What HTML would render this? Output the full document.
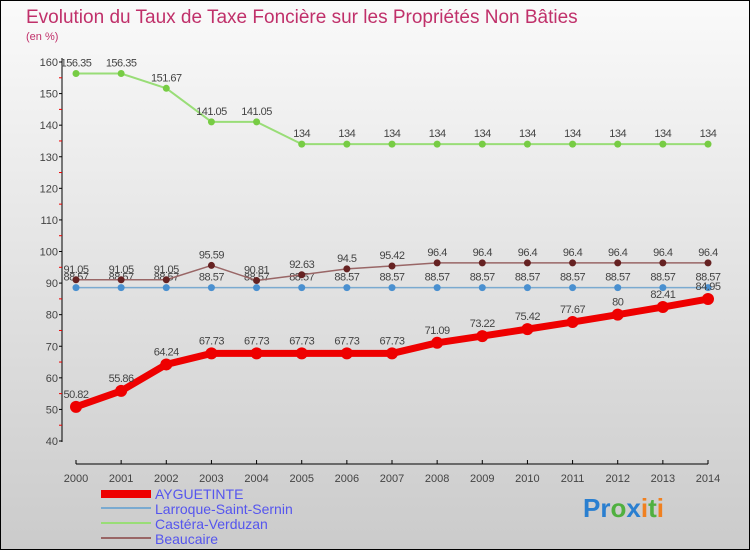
<!DOCTYPE html>
<html><head><meta charset="utf-8"><style>
body{margin:0}
#c{width:748px;height:548px;border:1px solid #000;background:linear-gradient(#fafafa,#cbcbcb);position:relative;font-family:"Liberation Sans",sans-serif;overflow:hidden}
</style></head><body>
<div id="c">
<svg id="s" width="748" height="548" xmlns="http://www.w3.org/2000/svg" font-family="Liberation Sans, sans-serif">
<text x="25" y="22" font-size="19" fill="#c0306a">Evolution du Taux de Taxe Foncière sur les Propriétés Non Bâties</text>
<text x="25" y="39" font-size="11" fill="#c0306a">(en %)</text>
<g id="axes"></g><g id="series"></g>
<g font-size="14" fill="#5555ee">
<rect x="100" y="489" width="50" height="8" fill="#e00"/>
<text x="154" y="498">AYGUETINTE</text>
<rect x="100" y="506" width="50" height="2" fill="#7aaad0"/>
<text x="154" y="513">Larroque-Saint-Sernin</text>
<rect x="100" y="521" width="50" height="2" fill="#99dd77"/>
<text x="154" y="528">Castéra-Verduzan</text>
<rect x="100" y="536" width="50" height="2" fill="#996666"/>
<text x="154" y="543">Beaucaire</text>
</g>
<text x="582" y="516" font-size="26" font-weight="bold"><tspan fill="#2a7fd0">Pr</tspan><tspan fill="#50b040">o</tspan><tspan fill="#2a7fd0">x</tspan><tspan fill="#f08020">i</tspan><tspan fill="#50b040">t</tspan><tspan fill="#f08020">i</tspan></text>
</svg></div>
<script>
const years=[2000,2001,2002,2003,2004,2005,2006,2007,2008,2009,2010,2011,2012,2013,2014];
const ayguetinte=[50.82,55.86,64.24,67.73,67.73,67.73,67.73,67.73,71.09,73.22,75.42,77.67,80,82.41,84.95];
const larroque=[88.57,88.57,88.57,88.57,88.57,88.57,88.57,88.57,88.57,88.57,88.57,88.57,88.57,88.57,88.57];
const castera=[156.35,156.35,151.67,141.05,141.05,134,134,134,134,134,134,134,134,134,134];
const beaucaire=[91.05,91.05,91.05,95.59,90.81,92.63,94.5,95.42,96.4,96.4,96.4,96.4,96.4,96.4,96.4];
const yTicks=[40,50,60,70,80,90,100,110,120,130,140,150,160];
const NS="http://www.w3.org/2000/svg";
const X=i=>75+i*(707-75)/14;
const Y=v=>440-(v-40)*(440-61)/120;
function mk(t,a,p){const e=document.createElementNS(NS,t);for(const k in a)e.setAttribute(k,a[k]);p.appendChild(e);return e;}
const ax=document.getElementById('axes');
let l=mk('line',{x1:61,y1:57,x2:61,y2:441,stroke:'#000'},ax);


yTicks.forEach(v=>{mk('line',{x1:58,y1:Y(v),x2:61,y2:Y(v),stroke:'#000'},ax);
 const t=mk('text',{x:57,y:Y(v)+4,'font-size':11,fill:'#444','text-anchor':'end'},ax);t.textContent=v;
 
 
 if(v<160)mk('line',{x1:58,y1:Y(v+5),x2:61,y2:Y(v+5),stroke:'#e00'},ax);});
l=mk('line',{x1:75,y1:463,x2:707,y2:463,stroke:'#000'},ax);


years.forEach((y,i)=>{mk('line',{x1:X(i),y1:459,x2:X(i),y2:463,stroke:'#000'},ax);
 const t=mk('text',{x:X(i),y:481,'font-size':11,fill:'#444','text-anchor':'middle'},ax);t.textContent=y;
 
 });
const sg=document.getElementById('series');
function series(d,name,col,dot,w,r,off){
 const g=mk('g',{},sg);
 
 
 mk('polyline',{points:d.map((v,i)=>X(i)+','+Y(v)).join(' '),fill:'none',stroke:col,'stroke-width':w,'stroke-linejoin':'round'},g);
 d.forEach((v,i)=>{const c=mk('circle',{cx:X(i),cy:Y(v),r:r,fill:dot},g);
  
  
  const t=mk('text',{x:X(i),y:Y(v)+off,'font-size':11,fill:'#444','text-anchor':'middle','letter-spacing':'-0.5'},g);t.textContent=v;
  
  });
}
series(castera,'castera','#99dd77','#77cc44',2,3.5,-7);
series(larroque,'larroque','#7aaad0','#4a90d0',1.5,3.5,-7);
series(beaucaire,'beaucaire','#996666','#662222',1.5,3.5,-7);
series(ayguetinte,'ayguetinte','#ee0000','#ee0000',7,6,-9);
</script>
</body></html>
